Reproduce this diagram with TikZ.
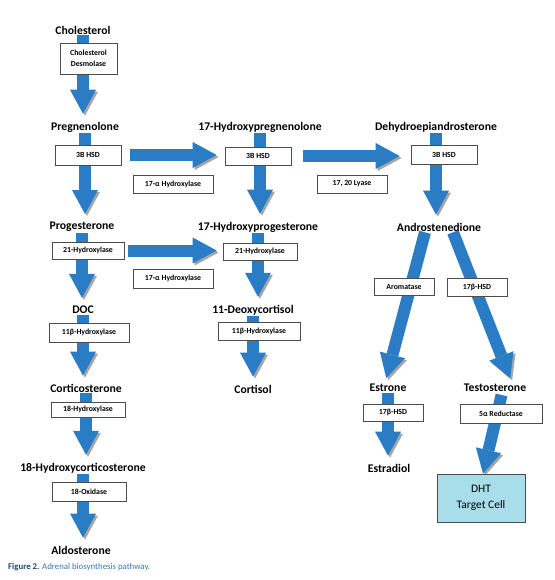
\documentclass[tikz,border=0pt]{standalone}
\usepackage{fontspec}
\setmainfont{Carlito}
\usetikzlibrary{arrows.meta}
\pgfdeclarelayer{bg}
\pgfsetlayers{bg,main}
\definecolor{arrowblue}{HTML}{2A7DC4}
\definecolor{cellblue}{HTML}{A8DDEA}
\definecolor{captionblue}{HTML}{3A78B5}

\begin{document}
\begin{tikzpicture}[x=1pt,y=-1pt,
    compound/.style={font=\bfseries\fontsize{11.7}{13}\selectfont,inner sep=1pt},
    enzyme/.style={draw=black!70,line width=0.7pt,fill=white,inner sep=1pt,align=center,
        font=\bfseries\fontsize{7.8}{9}\selectfont},
    flow/.style={draw=arrowblue,line width=12pt,shorten >=7pt,
        -{Triangle[width=26pt,length=24pt,line width=0pt]},
        preaction={draw=black!35,transform canvas={shift={(2pt,-2pt)}}}}]
  \useasboundingbox (0,0) rectangle (554,580);

  % compounds
  \foreach \name/\x/\y/\txt in {chol/83/30/Cholesterol, preg/85/127/Pregnenolone,
      prog/82/227/Progesterone, doc/83/310/DOC, cort/86/388/Corticosterone,
      hcort/83/468/18-Hydroxycorticosterone, aldo/81/550/Aldosterone,
      ohpreg/260/127/17-Hydroxypregnenolone, ohprog/258/227/17-Hydroxyprogesterone,
      deoxy/253/310/11-Deoxycortisol, cortisol/253/389/Cortisol,
      dhea/436/127/Dehydroepiandrosterone, andro/439/227/Androstenedione,
      estrone/388/388/Estrone, testo/495/388/Testosterone, estradiol/389/468/Estradiol}
    \node[compound] (\name) at (\x,\y) {\txt};

  % enzymes
  \foreach \name/\x/\y/\w/\h/\txt in {desmolase/88.5/58.5/57/31/Cholesterol\\[2pt]Desmolase,
      hsdA/88/155/66/20/3B HSD, alphaA/173/184/80/18/17-α Hydroxylase,
      hsdB/258/156/66/18/3B HSD, lyase/352/184/70/18/{17, 20 Lyase},
      hsdC/444/155/66/19/3B HSD, hydA/88/250.5/72/17/21-Hydroxylase,
      alphaB/173/278.5/80/19/17-α Hydroxylase, hydB/260/251.5/74/17/21-Hydroxylase,
      betaA/89/332.5/80/19/11β-Hydroxylase, betaB/259/331/82/18/11β-Hydroxylase,
      hydC/88/409.5/74/15/18-Hydroxylase, oxidase/89/491.5/74/19/18-Oxidase,
      aromatase/404/286.5/60/17/Aromatase, hsdD/477/287/60/18/17β-HSD,
      hsdE/393/412.5/60/17/17β-HSD, reductase/501/413.5/82/19/5α Reductase}
    \node[enzyme,minimum width=\w pt,minimum height=\h pt] (\name) at (\x,\y) {\txt};

  \node[draw=black!70,line width=0.7pt,fill=cellblue,minimum width=88pt,minimum height=48pt,
      align=center,font=\fontsize{11.5}{16}\selectfont] (dht) at (481,498) {DHT\\Target Cell};

  \node[anchor=west,inner sep=0pt,font=\fontsize{8.8}{10}\selectfont] (caption) at (8,567)
    {\textcolor{captionblue!60!black}{\textbf{Figure 2.}} \textcolor{captionblue}{Adrenal biosynthesis pathway.}};

  % block arrows behind the boxes
  \begin{pgfonlayer}{bg}
    \fill[white] (0,0) rectangle (554,580);
    \foreach \a/\b in {chol/preg, preg/prog, prog/doc, doc/cort, cort/hcort, hcort/aldo,
        ohpreg/ohprog, ohprog/deoxy, deoxy/cortisol, dhea/andro, estrone/estradiol}
      \draw[flow] (\a.south) -- (\a.south |- \b.north);
    \draw[flow,shorten <=9pt,shorten >=8pt] (hsdA.east) -- (hsdA.east -| hsdB.west);
    \draw[flow,shorten <=4pt,shorten >=6pt] (hydA.east) -- (hydA.east -| hydB.west);
    \draw[flow,shorten <=12pt,shorten >=11pt] (hsdB.east) -- (hsdB.east -| hsdC.west);
    \draw[flow,shorten >=5pt] ([xshift=-14pt]andro.south) -- ([xshift=-3pt]estrone.north);
    \draw[flow,shorten >=5pt] ([xshift=14pt]andro.south) -- ([xshift=17pt]testo.north);
    \draw[flow,shorten <=2pt,shorten >=0pt] ([xshift=7pt]testo.south) -- ([xshift=2pt]dht.north);
  \end{pgfonlayer}
\end{tikzpicture}
\end{document}
